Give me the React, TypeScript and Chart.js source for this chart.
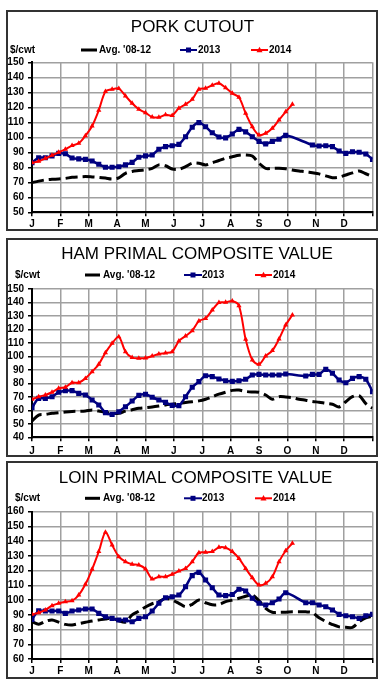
import React, { useEffect, useRef } from 'react';
import { Chart, registerables } from 'chart.js';

Chart.register(...registerables);

// ---------- data ----------
const MONTHS = ['J', 'F', 'M', 'A', 'M', 'J', 'J', 'A', 'S', 'O', 'N', 'D'];
const LEGEND_AVG = "Avg. '08-12";
const LEGEND_2013 = '2013';
const LEGEND_2014 = '2014';
const UNIT = '$/cwt';

const PORK_AVG = [69.8, 70.8, 71.6, 72, 72.2, 72.6, 73.3, 73.6, 73.8, 73.6,
  73.3, 72.8, 72.2, 73, 76, 77.2, 77.8, 78.4, 79.3, 81.6,
  81, 78.9, 78.7, 80.4, 82.7, 82.7, 81.6, 83.1, 84.5, 86,
  87, 88, 88.2, 87.5, 82.7, 79.3, 79.3, 79.3, 79, 78.2,
  77.6, 77.1, 76.4, 75.6, 74.3, 73.1, 73.5, 74.9, 76.3, 77.6,
  75.7, 73.8];
const PORK_2013 = [83.1, 86.4, 86.4, 87.6, 89.3, 89, 86.2, 85.6, 85.3, 84.2,
  82, 80, 80, 80.4, 81.6, 83.3, 86.7, 87.6, 88.2, 92,
  93.8, 94.4, 95.3, 100.4, 106.7, 109.8, 107, 103, 100.2, 99.6,
  102.2, 105.3, 103.6, 100.4, 97.3, 95.6, 97.3, 98.7, 101.3, null,
  null, null, 94.9, 94.2, 94.4, 93.8, 90.9, 89.3, 90.4, 90,
  88.9, 85.3];
const PORK_2014 = [83, 84, 86, 88, 90, 92, 94.5, 96, 101, 107.5,
  118, 130.5, 132, 132.5, 127.6, 122.7, 118.7, 116.4, 113.5, 113.3,
  115, 114.6, 119.3, 122, 125.3, 132, 132.7, 134.7, 136, 133,
  129.3, 126.7, 116, 107, 101.5, 102.7, 106, 111.6, 117, 122];

const HAM_AVG = [52, 56.5, 57, 57.8, 58.2, 58.8, 59.2, 59.3, 59.5, 60.3,
  59.5, 58.5, 58, 57.8, 59.5, 60.5, 61.5, 62, 62.5, 63.2,
  64, 64.6, 65.2, 65.8, 66.4, 67, 68.2, 70, 72, 73.5,
  74.8, 75, 74, 73.6, 73.4, 71.4, 68.2, 70.1, 69.9, 69.4,
  68.2, 67.5, 66.6, 66, 65.2, 64.5, 62.5, 66.4, 70.1, 70.9,
  65, 61.5];
const HAM_2013 = [62, 68.9, 68.9, 70.1, 73.4, 74.6, 74.6, 72.6, 71.4, 67.7,
  64, 58.3, 57, 59, 62.7, 66.9, 71.1, 71.9, 69.7, 67.7,
  65.9, 63.7, 63.5, 70.1, 77.1, 81.3, 85.7, 85, 83.3, 82,
  81.5, 82, 83, 86.2, 86.7, 86.2, 86.2, 86.2, 87, null,
  null, 85.5, 86.7, 86.7, 90.4, 87.5, 82.5, 80.5, 83.7, 85,
  83, 73.9];
const HAM_2014 = [68.2, 70.1, 71.4, 73.4, 76.3, 77.1, 80.5, 80.5, 83.7, 88.7,
  94.1, 102.8, 109.7, 114.6, 103.5, 99.1, 98.6, 98.8, 100.3, 101.8,
  102.5, 103.5, 111.4, 115.1, 119.1, 126.3, 128.2, 134.4, 139.9, 140.1,
  141.1, 137.6, 112.7, 97.3, 94.1, 100.3, 104.3, 112.9, 123.3, 130.7];

const LOIN_AVG = [85.3, 83.6, 85.5, 86.5, 85, 83.5, 83.1, 84, 84.9, 85.8,
  86.5, 87.2, 87.6, 86, 85, 89.9, 92.5, 95.3, 97.5, 98.9,
  101.2, 100, 97.8, 95.5, 97.1, 100, 98.2, 96.8, 97, 98.9,
  100, 101.2, 102.6, 103.5, 99.5, 94.4, 91.7, 91.7, 91.8, 92,
  92, 92, 91.5, 88, 85.5, 83.4, 81.8, 81.5, 81.5, 85.3,
  88, 89];
const LOIN_2013 = [86.9, 92.8, 92.6, 92.6, 92.6, 91, 92.6, 93.3, 93.9, 93.9,
  91, 88.7, 87.6, 86.5, 86.5, 85.3, 87.6, 88.7, 92.6, 97.8,
  101.6, 102.3, 103.4, 109.1, 116.6, 118.8, 113.6, 108.4, 103.4, 103,
  103.8, 107.3, 106.2, 101.2, 97.8, 96.7, 98.2, 100.7, 105, null,
  null, 98.2, 98.2, 96.7, 95.5, 93.3, 90.3, 89.4, 88.7, 87.6,
  89.4, 90.3];
const LOIN_2014 = [90.3, 91.4, 93.3, 96.2, 97.8, 98.9, 99.6, 103.4, 110.7, 120.9,
  132.9, 146, 137.4, 129.5, 126.1, 124.3, 123.8, 121.1, 114.3, 115.9,
  115.9, 117.5, 119.7, 121.5, 126.1, 132.2, 132.4, 132.9, 135.8, 135.6,
  132.9, 128.3, 121.5, 115.2, 110.2, 111.4, 115.9, 126.1, 133.5, 138.5];

// ---------- layout (page px) ----------
const FONT = 'Arial, "Liberation Sans", sans-serif';
const W = 386;
const PLOT_LEFT = 32;
const PLOT_RIGHT = 372.5;

type Cfg = {
  title: string; avg: (number | null)[]; s13: (number | null)[]; s14: (number | null)[];
  yMin: number; yMax: number;
  top: number; height: number; plotTop: number; plotBottom: number;
  titleX: number; titleBase: number; legendY: number; unitX: number;
  avgLine: [number, number]; avgText: number;
  l13: [number, number]; t13: number;
  l14: [number, number]; t14: number;
  xPad: number;
};

const PANELS: Cfg[] = [
  {
    title: 'PORK CUTOUT', avg: PORK_AVG, s13: PORK_2013, s14: PORK_2014, yMin: 50, yMax: 150,
    top: 10, height: 221, plotTop: 62.3, plotBottom: 212.3,
    titleX: 192.5, titleBase: 22.3, legendY: 40, unitX: 10,
    avgLine: [81, 97], avgText: 99, l13: [180, 197], t13: 198, l14: [251, 268], t14: 269, xPad: 2,
  },
  {
    title: 'HAM PRIMAL COMPOSITE VALUE', avg: HAM_AVG, s13: HAM_2013, s14: HAM_2014, yMin: 40, yMax: 150,
    top: 238, height: 219, plotTop: 289, plotBottom: 437.3,
    titleX: 197, titleBase: 21.3, legendY: 37, unitX: 15,
    avgLine: [85, 100], avgText: 103, l13: [184, 202], t13: 202, l14: [255, 272], t14: 273, xPad: 3.5,
  },
  {
    title: 'LOIN PRIMAL COMPOSITE VALUE', avg: LOIN_AVG, s13: LOIN_2013, s14: LOIN_2014, yMin: 60, yMax: 160,
    top: 461, height: 218, plotTop: 511.7, plotBottom: 659,
    titleX: 195.5, titleBase: 22.3, legendY: 37.3, unitX: 15,
    avgLine: [85, 100], avgText: 103, l13: [184, 202], t13: 202, l14: [255, 272], t14: 273, xPad: 2,
  },
];

const RED = '#ff0000';
const BLUE = '#000080';
const BLACK = '#000000';
const GRID = '#a0a0a0';

const toPts = (arr: (number | null)[]) => arr.map((v, i) => ({ x: (i * 12) / 51, y: v }));

function makeTextPlugin(c: Cfg) {
  return {
    id: 'panelText',
    afterDraw(chart: any) {
      const ctx: CanvasRenderingContext2D = chart.ctx;
      ctx.save();
      ctx.fillStyle = '#000';
      ctx.font = `17px ${FONT}`;
      ctx.textAlign = 'center';
      ctx.textBaseline = 'alphabetic';
      ctx.fillText(c.title, c.titleX, c.titleBase);

      ctx.font = `bold 10px ${FONT}`;
      ctx.textAlign = 'left';
      ctx.textBaseline = 'middle';
      const y = c.legendY;
      ctx.fillText(UNIT, c.unitX, y);

      // avg
      ctx.strokeStyle = BLACK;
      ctx.lineWidth = 3;
      ctx.beginPath();
      ctx.moveTo(c.avgLine[0], y);
      ctx.lineTo(c.avgLine[1], y);
      ctx.stroke();
      ctx.fillText(LEGEND_AVG, c.avgText, y);

      // 2013
      ctx.strokeStyle = BLUE;
      ctx.lineWidth = 2;
      ctx.beginPath();
      ctx.moveTo(c.l13[0], y);
      ctx.lineTo(c.l13[1], y);
      ctx.stroke();
      const m13 = (c.l13[0] + c.l13[1]) / 2;
      ctx.fillStyle = BLUE;
      ctx.fillRect(m13 - 2.5, y - 2.5, 5, 5);
      ctx.fillStyle = '#000';
      ctx.fillText(LEGEND_2013, c.t13, y);

      // 2014
      ctx.strokeStyle = RED;
      ctx.lineWidth = 2;
      ctx.beginPath();
      ctx.moveTo(c.l14[0], y);
      ctx.lineTo(c.l14[1], y);
      ctx.stroke();
      const m14 = (c.l14[0] + c.l14[1]) / 2;
      ctx.fillStyle = RED;
      ctx.beginPath();
      ctx.moveTo(m14, y - 3.2);
      ctx.lineTo(m14 + 3, y + 2.2);
      ctx.lineTo(m14 - 3, y + 2.2);
      ctx.closePath();
      ctx.fill();
      ctx.fillStyle = '#000';
      ctx.fillText(LEGEND_2014, c.t14, y);
      ctx.restore();
    },
  };
}

function Panel({ c }: { c: Cfg }) {
  const ref = useRef<HTMLCanvasElement>(null);
  useEffect(() => {
    const padTop = c.plotTop - c.top;
    const xAxisH = c.height - (c.plotBottom - c.top);
    const chart = new Chart(ref.current as HTMLCanvasElement, {
      type: 'line',
      data: {
        datasets: [
          {
            label: LEGEND_2014, data: toPts(c.s14) as any, borderColor: RED, backgroundColor: RED,
            borderWidth: 2, pointStyle: 'triangle', pointRadius: 3, pointBorderWidth: 0, tension: 0.3,
          },
          {
            label: LEGEND_2013, data: toPts(c.s13) as any, borderColor: BLUE, backgroundColor: BLUE,
            borderWidth: 2.5, pointStyle: 'rect', pointRadius: 3.6, pointBorderWidth: 0, tension: 0.3, spanGaps: true,
          },
          {
            label: LEGEND_AVG, data: toPts(c.avg) as any, borderColor: BLACK, borderWidth: 3,
            borderDash: [12, 5], pointRadius: 0, tension: 0.3,
          },
        ],
      },
      options: {
        responsive: false,
        animation: false,
        devicePixelRatio: 1,
        layout: { padding: { top: padTop, left: 0, right: W - PLOT_RIGHT, bottom: 0 } },
        plugins: { legend: { display: false }, title: { display: false }, tooltip: { enabled: false } },
        scales: {
          x: {
            type: 'linear', min: 0, max: 12,
            afterBuildTicks: (s: any) => { s.ticks = Array.from({ length: 13 }, (_, i) => ({ value: i })); },
            afterFit: (s: any) => { s.height = xAxisH; },
            ticks: {
              autoSkip: false, maxRotation: 0, padding: c.xPad, color: '#000',
              font: { family: FONT, size: 10, weight: 'bold' },
              callback: (v: any) => MONTHS[v as number] ?? '',
            },
            grid: { color: GRID, lineWidth: 1.5, tickColor: '#000', tickLength: 4 },
            border: { color: '#000', width: 2 },
          },
          y: {
            type: 'linear', min: c.yMin, max: c.yMax,
            afterFit: (s: any) => { s.width = PLOT_LEFT; },
            ticks: {
              stepSize: 10, autoSkip: false, padding: 4, color: '#000',
              font: { family: FONT, size: 10, weight: 'bold' },
            },
            grid: { color: GRID, lineWidth: 1.5, tickColor: '#000', tickLength: 4 },
            border: { color: '#000', width: 2 },
          },
        },
      },
      plugins: [makeTextPlugin(c)],
    });
    return () => chart.destroy();
  }, []);
  return (
    <>
      <div style={{
        position: 'absolute', left: 6, top: c.top, width: 372, height: c.height,
        border: '2px solid #333', boxSizing: 'border-box',
      }} />
      <canvas ref={ref} width={W} height={c.height}
        style={{ position: 'absolute', left: 0, top: c.top, width: W, height: c.height }} />
    </>
  );
}

export default function App() {
  return (
    <div style={{ position: 'absolute', left: 0, top: 0, width: W, height: 686, background: '#fff' }}>
      {PANELS.map((c, i) => <Panel key={i} c={c} />)}
    </div>
  );
}
